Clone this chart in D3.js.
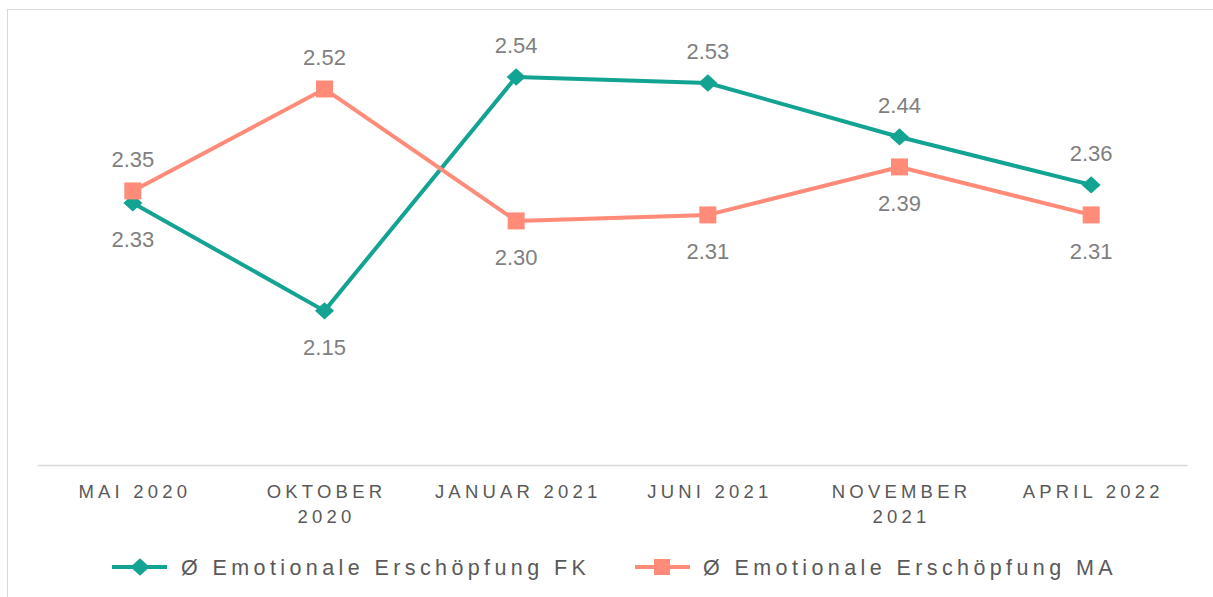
<!DOCTYPE html>
<html><head><meta charset="utf-8">
<script src="https://cdn.jsdelivr.net/npm/d3@7"></script>
<style>body{margin:0;background:#fff;}svg{display:block;font-family:"Liberation Sans",Arial,sans-serif;}</style>
</head><body><svg id="c" width="1213" height="597"></svg>
<script>
const categories = [["MAI 2020"],["OKTOBER","2020"],["JANUAR 2021"],["JUNI 2021"],["NOVEMBER","2021"],["APRIL 2022"]];
const seriesNames = ["Ø Emotionale Erschöpfung FK","Ø Emotionale Erschöpfung MA"];
const fkValues = [2.33,2.15,2.54,2.53,2.44,2.36];
const maValues = [2.35,2.52,2.30,2.31,2.39,2.31];
const fkLabelPos = ["below","below","above","above","above","above"];
const maLabelPos = ["above","above","below","below","below","below"];
const colors = ["#13a392","#ff8b78"];

const svg = d3.select("#c");
svg.append("rect").attr("x",7.5).attr("y",9.5).attr("width",1300).attr("height",700)
  .attr("fill","none").attr("stroke","#d9d9d9").attr("stroke-width",1);

const x = d3.scaleBand().domain(d3.range(categories.length)).range([37,1187]);
const y = d3.scaleLinear().domain([1.893,2.6]).range([465,41]);
const cx = i => x(i)+x.bandwidth()/2;

// axis
const xAxis = svg.append("g").attr("transform","translate(0,465)")
  .call(d3.axisBottom(x).tickSize(0).tickFormat(()=>""));
xAxis.select(".domain").attr("stroke","#d9d9d9").attr("stroke-width",1.5);
xAxis.selectAll(".tick").each(function(d){
  const t = d3.select(this).append("text").attr("fill","#595959").attr("font-size",18.5)
    .attr("letter-spacing","4.2px").attr("text-anchor","middle");
  categories[d].forEach((line,k)=>{
    t.append("tspan").attr("x",2).attr("y",33+k*25).text(line);
  });
});

const line = d3.line().x((d,i)=>cx(i)).y(d=>y(d));
const diamond = d3.symbol().type(d3.symbolSquare).size(150);
function drawSeries(vals,color,shape,labelPos){
  svg.append("path").datum(vals).attr("d",line).attr("fill","none")
    .attr("stroke",color).attr("stroke-width",4).attr("stroke-linejoin","round");
  const g = svg.append("g");
  vals.forEach((v,i)=>{
    if(shape==="diamond"){
      g.append("path").attr("d",diamond).attr("transform",`translate(${cx(i)},${y(v)}) scale(1.1,1) rotate(45)`).attr("fill",color);
    } else {
      g.append("rect").attr("x",cx(i)-8.5).attr("y",y(v)-8.5).attr("width",17).attr("height",17).attr("fill",color);
    }
  });
  vals.forEach((v,i)=>{
    svg.append("text").attr("x",cx(i)).attr("y",y(v)+(labelPos[i]==="above"?-32:36))
      .attr("dy","0.35em").attr("text-anchor","middle").attr("fill","#7f7f7f")
      .attr("font-size",22).text(v.toFixed(2));
  });
}
drawSeries(fkValues,colors[0],"diamond",fkLabelPos);
drawSeries(maValues,colors[1],"square",maLabelPos);

// legend
const legendX = [112,635];
seriesNames.forEach((name,k)=>{
  const g = svg.append("g").attr("transform",`translate(${legendX[k]},567)`);
  g.append("line").attr("x1",0).attr("x2",55).attr("stroke",colors[k]).attr("stroke-width",4);
  if(k===0) g.append("path").attr("d",diamond).attr("transform","translate(28,0) scale(1.1,1) rotate(45)").attr("fill",colors[k]);
  else g.append("rect").attr("x",19).attr("y",-8).attr("width",16).attr("height",16).attr("fill",colors[k]);
  g.append("text").attr("x",k===0?69:68).attr("dy","0.35em").attr("fill","#595959").attr("font-size",21.5)
    .attr("letter-spacing","4.4px").text(name);
});
</script></body></html>
